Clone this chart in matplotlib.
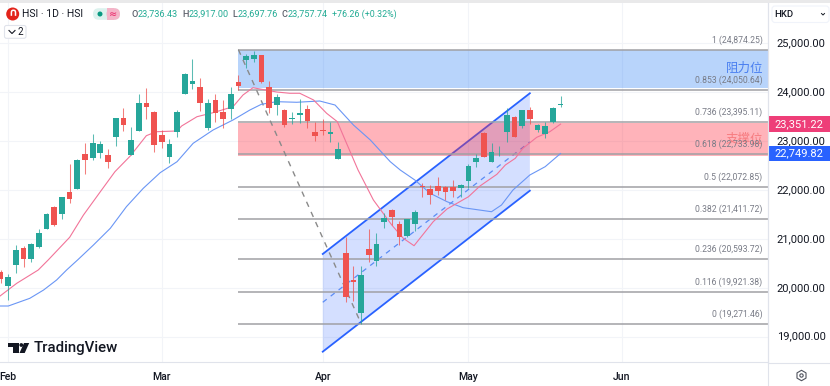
#!/usr/bin/env python3
"""HSI daily candles with fib levels, channel and two moving averages."""

import matplotlib
matplotlib.use('Agg')
import matplotlib.pyplot as plt
from matplotlib.patches import Circle, FancyBboxPatch, Polygon, Rectangle
from matplotlib.transforms import ScaledTranslation

plt.rcParams['font.family'] = ['Roboto', 'Noto Sans CJK SC', 'DejaVu Sans']

# ── Data ──
first_bar = -1
opens = [20328, 20041, 20471, 20825, 20593, 20845, 21213, 21663, 21514, 21957,
         22019, 22741, 22653, 22767, 22720, 23082, 23471, 22720, 23217, 23777,
         23606, 23129, 22673, 23197, 23968, 24172, 24117, 23266, 23845, 23606,
         23655, 24219, 24663, 24683, 24759, 24105, 23743, 23641, 23450, 23532,
         23667, 23197, 23225, 23150, 22632, 20722, 20164, 19483, 20804, 20552,
         21356, 21602, 21309, 21064, 21303, 22086, 22019, 22086, 22060, 22060,
         22039, 22195, 22571, 23176, 22583, 22853, 23184, 23503, 23313, 23641,
         23232, 23150, 23389, 23736.43]
highs = [20368, 20287, 20880, 20859, 20921, 21207, 21534, 21677, 21861, 22530,
         22628, 22972, 23144, 23007, 22843, 23477, 23688, 23293, 23962, 24084,
         23620, 23232, 23041, 23641, 24397, 24677, 24289, 23859, 23962, 23845,
         24105, 24356, 24786, 24853, 24765, 24233, 23962, 23651, 23606, 23859,
         23743, 23389, 23450, 23389, 22992, 21050, 20456, 20450, 21201, 21125,
         21534, 21616, 21377, 21415, 21596, 22148, 22107, 22264, 22086, 22209,
         22117, 22536, 22741, 23191, 22972, 22904, 23675, 23518, 23641, 23708,
         23354, 23389, 23708, 23917.00]
lows = [20103, 19765, 20313, 20430, 20532, 20818, 21207, 21268, 21405, 21732,
        22015, 22332, 22618, 22653, 22448, 22910, 23211, 22710, 23211, 23450,
        22788, 22870, 22563, 23094, 23957, 24076, 23626, 23232, 23401, 23266,
        23450, 24050, 24493, 24616, 24193, 23573, 23538, 23293, 23348, 23381,
        23266, 23013, 23129, 22992, 22628, 19720, 19741, 19271, 20538, 20450,
        21234, 21289, 20880, 21043, 21172, 21855, 21718, 21902, 21800, 21868,
        21855, 22039, 22469, 22679, 22577, 22700, 22980, 23088, 23272, 23354,
        23197, 23074, 23368, 23697.76]
closes = [20184, 20219, 20778, 20587, 20894, 21131, 21514, 21283, 21855, 21814,
          22618, 22618, 22972, 22945, 22571, 23471, 23334, 23027, 23777, 23708,
          22925, 22992, 22945, 23594, 24377, 24234, 23777, 23777, 23585, 23450,
          23962, 24131, 24745, 24765, 24207, 23675, 23900, 23334, 23483, 23585,
          23422, 23109, 23211, 23197, 22843, 19810, 20123, 20260, 20675, 20906,
          21426, 21446, 21050, 21405, 21561, 22066, 21902, 21984, 21970, 21990,
          22107, 22501, 22653, 22686, 22775, 22863, 23538, 23094, 23634, 23450,
          23340, 23319, 23681, 23757.74]

ma_fast_pos = [-1.08, 1.1, 3.9, 5.2, 8, 9.8, 12, 13.9, 15.9, 18, 19.3, 22, 22.6,
               24.6, 26.7, 29.3, 30.6, 31.9, 33.5, 35, 36.7, 38, 39.8, 41.5,
               42.9, 44.1, 45.6, 47.6, 50, 51.5, 52.9, 55.4, 57.2, 60, 61.5,
               63.7, 64.8, 66.1, 67.1, 68.9, 70.6, 72]
ma_fast = [19836, 20096, 20368, 20573, 21037, 21493, 21969, 22378, 22699, 23115,
           23196, 23211, 23313, 23503, 23585, 23708, 23947, 24096, 24049, 24008,
           23982, 23982, 23845, 23573, 23401, 22959, 22413, 21800, 21288, 21016,
           20865, 21356, 21616, 21867, 22086, 22325, 22515, 22652, 22857, 23082,
           23196, 23351.22]
ma_slow_pos = [-1.08, 0, 2.8, 4.6, 6.3, 7.6, 9.1, 11.1, 13.3, 15.4, 17.6, 19.8,
               22, 24.1, 26.7, 29.3, 31.5, 33, 35, 37.6, 40.6, 42.6, 45, 47.2,
               49.8, 51.1, 53, 55, 57.2, 59.3, 63, 64.3, 65.8, 68, 70, 72]
ma_slow = [19632, 19632, 19789, 19959, 20164, 20368, 20583, 20879, 21221, 21663,
           22039, 22358, 22583, 22959, 23231, 23436, 23640, 23757, 23810, 23798,
           23824, 23742, 23333, 23027, 22583, 22413, 22209, 21937, 21765, 21642,
           21560, 21697, 22004, 22311, 22481, 22749.82]

fib_ratios = ['1', '0.853', '0.736', '0.618', '0.5', '0.382', '0.236', '0.116', '0']
fib_prices = [24874.25, 24050.64, 23395.11, 22733.98, 22072.85, 21411.72,
              20593.72, 19921.38, 19271.46]
fib_start = 30
resist_zone = (24874, 24084)
support_zone = (23364, 22700)
trend_pos = [30, 46]
trend_prices = [24874.25, 19271.46]
channel_pos = [41, 68]
channel_top = [20696, 23982]
channel_mid = [19708, 22986]
channel_bot = [18698, 21990]

y_ticks = [19000, 20000, 21000, 22000, 23000, 24000, 25000]
month_pos = [0, 20, 41, 60, 80]
month_labels = ['Feb', 'Mar', 'Apr', 'May', 'Jun']

GREEN = '#26a69a'
RED = '#ef5350'
TEAL_TEXT = '#22ab94'
GRID = '#f2f4f8'
BORDER = '#e0e3eb'
INK = '#131722'

W, H = 830, 386
fig = plt.figure(figsize=(W / 100, H / 100), dpi=100, facecolor='white')
ax = fig.add_axes([0, (H - 362) / H, 768 / W, 359 / H])
ax.set_xlim(-1.082, 99.05)
ax.set_ylim(18487, 25828)

# grid and axes
ax.set_yticks(y_ticks)
ax.set_yticklabels([f'{v:,.2f}' for v in y_ticks], fontsize=8, color=INK)
ax.yaxis.tick_right()
ax.set_xticks(month_pos)
ax.set_xticklabels(month_labels, fontsize=7.6, color=INK, fontweight='medium')
ax.tick_params(axis='both', length=0)
ax.tick_params(axis='y', pad=6.2)
ax.tick_params(axis='x', pad=7)
ax.grid(True, color=GRID, linewidth=0.8, zorder=0)
ax.set_axisbelow(True)
for side in ('top', 'left'):
    ax.spines[side].set_visible(False)
for side in ('right', 'bottom'):
    ax.spines[side].set_color(BORDER)
    ax.spines[side].set_linewidth(0.8)
# price labels sit a pixel above their grid lines
nudge = ScaledTranslation(0, 1.2 / 100, fig.dpi_scale_trans)
for lab in ax.get_yticklabels():
    lab.set_transform(lab.get_transform() + nudge)

right_edge = ax.get_xlim()[1]

# channel
top_line = list(zip(channel_pos, channel_top))
bot_line = list(zip(channel_pos, channel_bot))
ax.add_patch(Polygon(top_line + bot_line[::-1], closed=True, facecolor='#2962ff',
                     alpha=0.2, edgecolor='none', zorder=1))
ax.plot(channel_pos, channel_top, color='#2962ff', lw=1.3, zorder=1.2)
ax.plot(channel_pos, channel_bot, color='#2962ff', lw=1.3, zorder=1.2)
ax.plot(channel_pos, channel_mid, color='#5b8cf5', lw=0.9, ls=(0, (4, 4)), zorder=1.2)

# fib zones and levels
ax.fill_between([fib_start, right_edge], resist_zone[1], resist_zone[0],
                color=(52 / 255, 132 / 255, 246 / 255), alpha=0.35, lw=0, zorder=1.5)
ax.fill_between([fib_start, right_edge], support_zone[1], support_zone[0],
                color=(1, 38 / 255, 58 / 255), alpha=0.35, lw=0, zorder=1.5)
ax.hlines(fib_prices, fib_start, right_edge, color='#a0a0a4', lw=1.1, zorder=2)
ax.plot(trend_pos, trend_prices, color='#8a8a8a', lw=1, ls=(0, (4, 4)), zorder=2)

yax = ax.get_yaxis_transform()
for ratio, price in zip(fib_ratios, fib_prices):
    ax.annotate(f'{ratio} ({price:,.2f})', xy=(1, price), xycoords=yax,
                xytext=(-4, 3.6), textcoords='offset points', ha='right', va='bottom',
                fontsize=6.2, color='#787b86', zorder=6)
ax.text(0.9935, 24500, '阻力位', transform=yax, ha='right', va='center',
        fontsize=9, color='#4a7ff0', zorder=6)
ax.text(0.9935, 23047, '支撑位', transform=yax, ha='right', va='center',
        fontsize=9, color='#f77c80', zorder=3)

# moving averages
ax.plot(ma_slow_pos, ma_slow, color='#6a96f5', lw=0.8, zorder=3)
ax.plot(ma_fast_pos, ma_fast, color='#f27499', lw=0.8, zorder=3)

# candles
bar_pos = list(range(first_bar, first_bar + len(opens)))
bar_colors = [GREEN if c >= o else RED for o, c in zip(opens, closes)]
ax.vlines(bar_pos, lows, highs, colors=bar_colors, lw=0.75, alpha=0.75, zorder=4)
ax.bar(bar_pos, [abs(c - o) for o, c in zip(opens, closes)],
       bottom=[min(o, c) for o, c in zip(opens, closes)], width=0.74,
       color=bar_colors, linewidth=0, zorder=5)

# last value tags on the price axis
tag_h = 320
for value, tag_color in ((ma_fast[-1], '#ee3e78'), (ma_slow[-1], '#2962ff')):
    ax.add_patch(Rectangle((1.0015, value - tag_h / 2), 61 / 768, tag_h, transform=yax,
                           facecolor=tag_color, edgecolor='none', clip_on=False, zorder=7))
    ax.text(1 + 31 / 768, value, f'{value:,.2f}', transform=yax, ha='center',
            va='center', fontsize=8, color='white', zorder=8, clip_on=False)

# ── Chrome, in pixel coordinates ──
ui = fig.add_axes([0, 0, 1, 1], zorder=10)
ui.set_xlim(0, W)
ui.set_ylim(H, 0)
ui.axis('off')
ui.patch.set_alpha(0)

ui.add_patch(Rectangle((0, 0), W, 3, facecolor='#e9e9ea', edgecolor='none'))
ui.plot([768, 768], [3, 386], color=BORDER, lw=0.8)
ui.plot([768, 830], [362.5, 362.5], color=BORDER, lw=0.8)

ui.add_patch(FancyBboxPatch((772, 6), 57, 16.5, boxstyle='round,pad=0,rounding_size=3',
                            facecolor='white', edgecolor='#f0f3fa', lw=0.8))
ui.text(774, 14.5, 'HKD', fontsize=6.8, color=INK, va='center', fontweight='medium')
ui.plot([821.5, 823, 824.5], [13.5, 15, 13.5], color=INK, lw=0.7)

# title row
ui.add_patch(Circle((12.7, 14), 6.5, facecolor='#e2231a', edgecolor='none'))
ui.text(12.7, 13.6, '∩', fontsize=8, color='white', ha='center', va='center',
        fontweight='bold', family='DejaVu Sans')
ui.text(21.5, 14.2, 'HSI · 1D · HSI', fontsize=7.5, color=INK, va='center')
ui.add_patch(FancyBboxPatch((93, 8.2), 27, 11.6, boxstyle='round,pad=0,rounding_size=5.8',
                            facecolor='#dcf2ee', edgecolor='none'))
ui.add_patch(Rectangle((106.5, 8.2), 7, 11.6, facecolor='#f4b4c8', edgecolor='none'))
ui.add_patch(FancyBboxPatch((106.5, 8.2), 13.5, 11.6, boxstyle='round,pad=0,rounding_size=5.8',
                            facecolor='#f4b4c8', edgecolor='none'))
ui.add_patch(Circle((100, 14), 2.5, facecolor='#089981', edgecolor='none'))
ui.text(113, 13.8, '≈', fontsize=7, color='#e91e63', ha='center', va='center',
        family='DejaVu Sans')

ohlc_letters = [(131, 'O', 138, f'{opens[-1]:,.2f}'), (182, 'H', 189, f'{highs[-1]:,.2f}'),
                (232.7, 'L', 238, f'{lows[-1]:,.2f}'), (281, 'C', 287.5, f'{closes[-1]:,.2f}')]
for lx, letter, vx, val in ohlc_letters:
    ui.text(lx, 14.2, letter, fontsize=6.6, color='#5d606b', va='center', fontweight='medium')
    ui.text(vx, 14.2, val, fontsize=6.6, color=TEAL_TEXT, va='center')
ui.text(331.7, 14.2, '+76.26 (+0.32%)', fontsize=6.4, color=TEAL_TEXT, va='center')

ui.add_patch(FancyBboxPatch((4.5, 25.5), 21.5, 12.8, boxstyle='round,pad=0,rounding_size=2',
                            facecolor='white', edgecolor=BORDER, lw=0.8))
ui.plot([9, 12, 15], [30.5, 33.5, 30.5], color=INK, lw=0.8)
ui.text(20, 32, '2', fontsize=7, color=INK, ha='center', va='center')

# logo
ui.add_patch(Polygon([(8.3, 343), (19, 343), (19, 353), (13, 353), (13, 346.8), (8.3, 346.8)],
                     facecolor=INK, edgecolor='none'))
ui.add_patch(Circle((21.3, 345), 1.9, facecolor=INK, edgecolor='none'))
ui.add_patch(Polygon([(19.5, 353), (24, 343), (29.2, 343), (24.7, 353)],
                     facecolor=INK, edgecolor='none'))
ui.text(34, 348, 'TradingView', fontsize=10.8, color=INK, va='center', fontweight='medium')

# settings gear
ui.plot([800.5], [375], marker='h', ms=7.5, mfc='none', mec='#50535e', mew=0.8)
ui.plot([800.5], [375], marker='o', ms=2.4, mfc='none', mec='#50535e', mew=0.8)

fig.savefig('out.png', dpi=100, facecolor='white')
